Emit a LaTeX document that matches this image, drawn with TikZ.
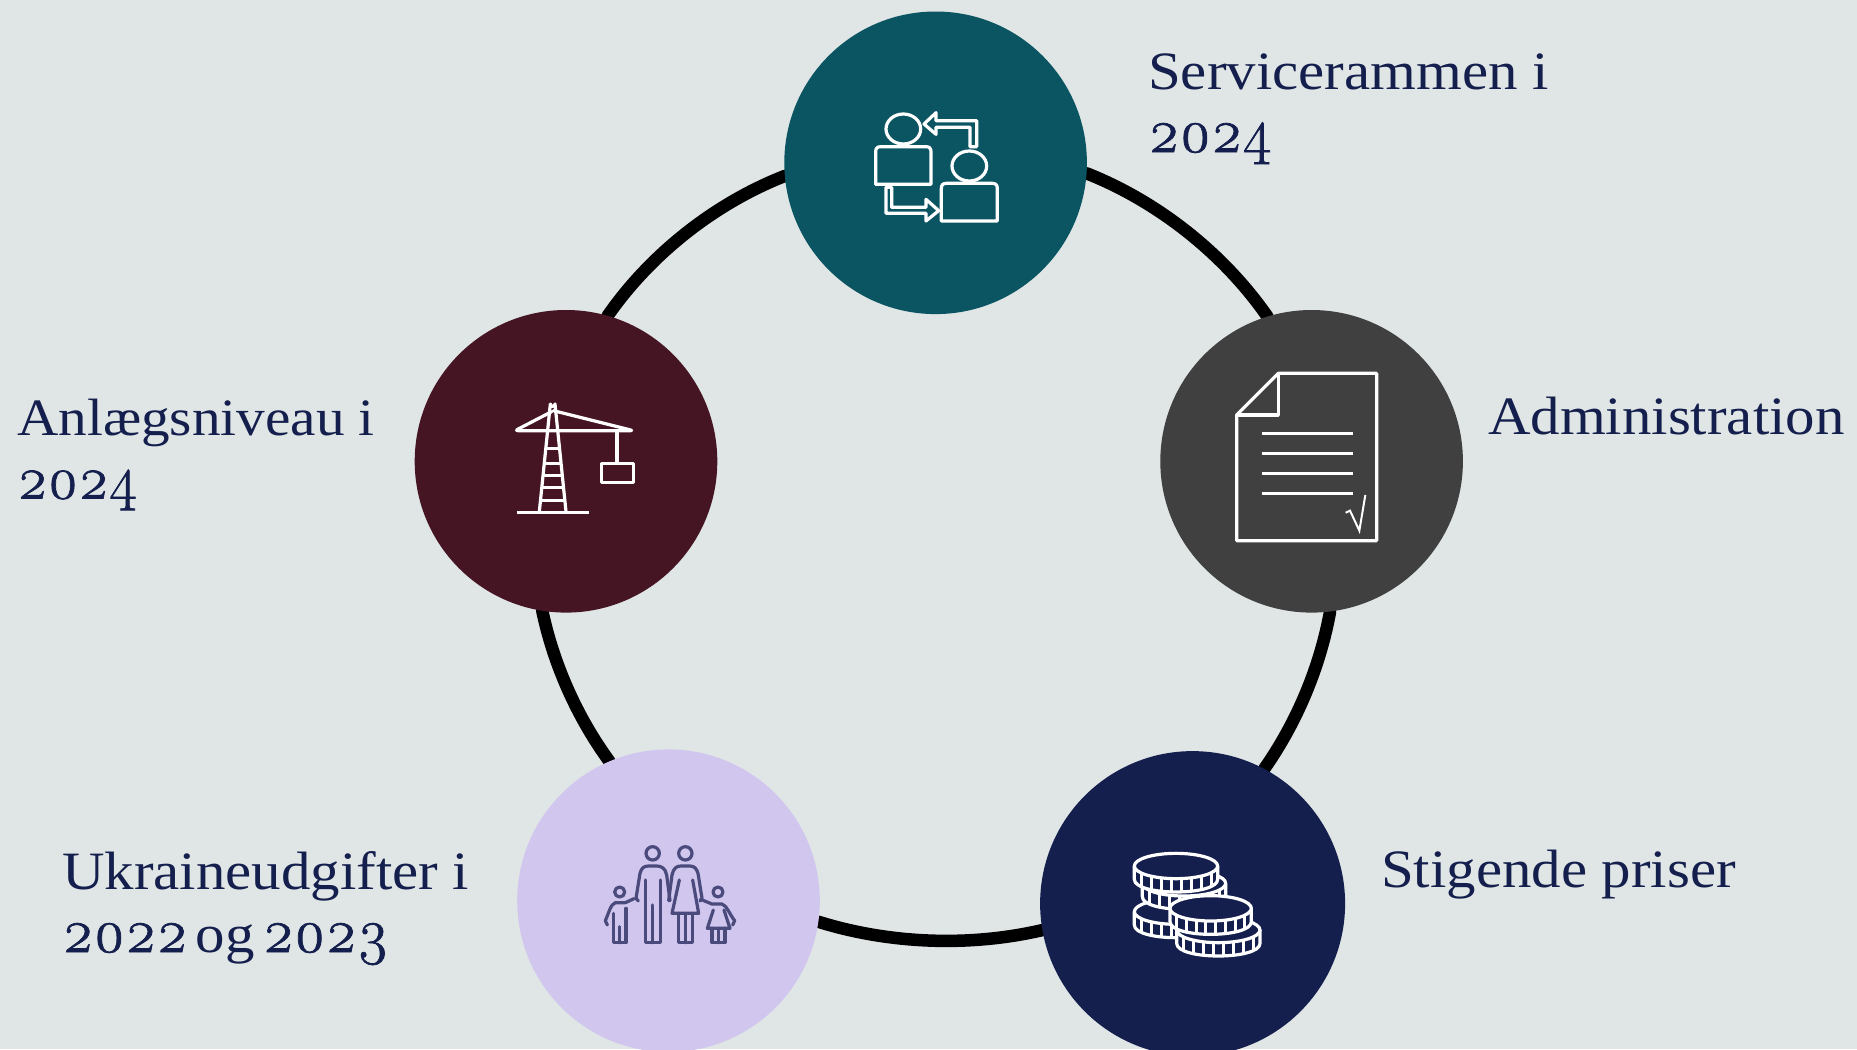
\documentclass[tikz,border=0pt]{standalone}
\usepackage{fontspec}
\setmainfont{Liberation Serif}[FakeStretch=1.09]
\newfontfamily\osf{Latin Modern Roman}[Numbers=OldStyle,FakeBold=1.2,FakeStretch=0.97,Scale=1.15]
\definecolor{paper}{HTML}{E0E6E6}
\definecolor{tealc}{HTML}{0B5563}
\definecolor{wine}{HTML}{451524}
\definecolor{greyc}{HTML}{404040}
\definecolor{navy}{HTML}{141F4D}
\definecolor{lilac}{HTML}{D0C6EE}
\definecolor{famc}{HTML}{4A4A7C}
\pgfdeclarelayer{paperlayer}
\pgfdeclarelayer{ringlayer}
\pgfsetlayers{paperlayer,ringlayer,main}
\tikzset{
  x=1pt,y=-1pt,
  hub/.style={circle,inner sep=0pt,minimum size=302.6pt},
  lab/.style={anchor=base west,inner sep=0pt,text=navy,font=\fontsize{54}{63}\selectfont,align=left},
  ringline/.style={line width=12.5pt,black,looseness=0.85,line cap=round},
  icon/.style={white,line width=3.2pt,line join=round},
  famline/.style={famc,line width=3.2pt,line join=round,line cap=round},
}
\newcommand{\mycoin}[5]{% cx cy rx ry h
  \begin{scope}[shift={(#1,#2)}]
    \fill[navy] (-#3,0) -- (-#3,#5) .. controls (-#3,#5+1.333*#4) and (#3,#5+1.333*#4) .. (#3,#5) -- (#3,0) -- cycle;
    \foreach \k in {-3.5,-2.5,...,3.5}{
      \pgfmathsetmacro{\xx}{\k*#3*0.24}
      \pgfmathsetmacro{\yy}{#4*sqrt(1-(\k*0.24)*(\k*0.24))}
      \draw[white,line width=3pt] (\xx,\yy) -- (\xx,\yy+#5);
    }
    \draw[icon] (-#3,0) -- (-#3,#5) .. controls (-#3,#5+1.333*#4) and (#3,#5+1.333*#4) .. (#3,#5) -- (#3,0);
    \draw[icon,fill=navy] (0,0) ellipse [x radius=#3,y radius=#4];
  \end{scope}
}
\begin{document}
\begin{tikzpicture}
\useasboundingbox (0,0) rectangle (1857,1049);
\begin{pgfonlayer}{paperlayer}
\fill[paper] (0,0) rectangle (1857,1049);
\end{pgfonlayer}
\node[hub,fill=tealc] (top) at (935.6,162.8) {};
\node[hub,fill=greyc] (right) at (1311.6,461.3) {};
\node[hub,fill=navy,minimum size=305pt] (br) at (1192.6,903.6) {};
\node[hub,fill=lilac] (bl) at (668.5,900.7) {};
\node[hub,fill=wine] (left) at (566,461.3) {};
\begin{pgfonlayer}{ringlayer}
\draw[ringline] (top.-4.2) to[bend left=16.8] (right.107.2);
\draw[ringline] (right.-83.5) to[bend left=12.4] (br.62.4);
\draw[ringline] (br.-170.6) to[bend left=15.2] (bl.-8.7);
\draw[ringline] (bl.113.2) to[bend left=12.1] (left.-99);
\draw[ringline] (left.74.4) to[bend left=16.9] (top.-175.7);
\end{pgfonlayer}
\node[lab] (t1) at (1148,152) {Servicerammen i\\{\osf 2024}};
\node[lab] (t2) at (1488,434) {Administration};
\node[lab] (t3) at (1381,887) {Stigende priser};
\node[lab] (t4) at (62,952) {Ukraineudgifter i\\{\osf 2022}\hspace{8pt}og\hspace{8pt}{\osf 2023}};
\node[lab,font=\fontsize{52.5}{63}\selectfont] (t5) at (17,498.5) {Anlægsniveau i\\{\osf 2024}};
% people icon
\begin{scope}[shift={(840,90)},scale=1/3]
  \draw[icon] (190,117) ellipse [x radius=52,y radius=45];
  \draw[icon] (388,228) ellipse [x radius=52,y radius=45];
  \draw[icon] (107,283) -- (107,185) .. controls (107,175) and (112,170) .. (122,170) -- (258,170) .. controls (268,170) and (273,175) .. (273,185) -- (273,283) -- cycle;
  \draw[icon] (304,393) -- (304,295) .. controls (304,285) and (309,280) .. (319,280) -- (457,280) .. controls (467,280) and (472,285) .. (472,295) -- (472,393) -- cycle;
  \draw[icon] (390,170) -- (410,170) -- (410,92) -- (288,92) -- (288,68) -- (252,102) -- (288,133) -- (288,112) -- (390,112) -- cycle;
  \draw[icon] (138,292) -- (155,292) -- (155,352) -- (258,352) -- (258,328) -- (296,362) -- (258,393) -- (258,370) -- (138,370) -- cycle;
\end{scope}
% crane icon
\begin{scope}[shift={(490,380)},scale=1/3]
  \draw[icon] (80,397) -- (297,397);
  \draw[icon] (148,395) -- (181,72) arc[start angle=180,end angle=0,radius=7] -- (228,395);
  \draw[icon,line cap=round,rounded corners=3pt] (185,95) -- (75,152) -- (430,152) -- (190,92);
  \foreach \y/\a/\b in {205/172/205,250/166/211,287/162/215,322/158/219,362/154/223}
    \draw[icon] (\a,\y) -- (\b,\y);
  \draw[icon] (381,155) -- (381,250);
  \draw[icon] (335,250) rectangle (430,308);
\end{scope}
% document icon
\begin{scope}[shift={(1210,360)},scale=1/3]
  \draw[icon] (80,165) -- (205,40) -- (500,40) -- (500,542) -- (80,542) -- cycle;
  \draw[icon] (205,40) -- (205,165) -- (80,165);
  \foreach \y in {220,280,340,400} \draw[icon] (155,\y) -- (428,\y);
  \draw[white,line width=2pt,line join=miter] (407,458) -- (420,452) -- (448,512) -- (466,405);
\end{scope}
% family icon
\begin{scope}[shift={(590,830)},scale=1/3]
  \draw[famline] (188,70) circle [radius=20];
  \draw[famline] (286,70) circle [radius=20];
  \draw[famline] (89,186) circle [radius=15];
  \draw[famline] (384,186) circle [radius=15];
  \draw[famline] (145,213) -- (138,205) -- (150,130) .. controls (154,112) and (165,108) .. (175,108) -- (200,108) .. controls (215,108) and (226,115) .. (230,135) -- (240,212);
  \draw[famline] (166,150) -- (166,338) -- (212,338) -- (212,150);
  \draw[famline] (188,225) -- (188,338);
  \draw[famline] (236,212) -- (246,135) .. controls (250,115) and (260,108) .. (272,108) -- (300,108) .. controls (312,108) and (320,115) .. (324,130) -- (336,205) -- (330,213);
  \draw[famline] (268,150) -- (246,250) -- (326,250) -- (308,150);
  \draw[famline] (265,250) -- (265,338) -- (308,338) -- (308,250);
  \draw[famline] (286,250) -- (286,338);
  \draw[famline] (132,206) -- (106,218) -- (76,218) .. controls (62,222) and (56,250) .. (46,272) -- (52,285);
  \draw[famline] (70,250) -- (70,338) -- (108,338) -- (108,235);
  \draw[famline] (89,290) -- (89,338);
  \draw[famline] (332,208) -- (366,222) -- (396,222) .. controls (410,226) and (420,255) .. (434,272) -- (428,285);
  \draw[famline] (370,240) -- (352,295) -- (420,295) -- (402,240);
  \draw[famline] (366,295) -- (366,338) -- (405,338) -- (405,295);
  \draw[famline] (385,295) -- (385,338);
\end{scope}
% coins icon
\begin{scope}[shift={(1120,840)},scale=1/3]
  \mycoin{168}{215}{125}{38}{40}
  \mycoin{192}{130}{125}{38}{40}
  \mycoin{168}{78}{125}{38}{40}
  \mycoin{295}{270}{125}{38}{40}
  \mycoin{272}{205}{122}{38}{40}
\end{scope}
\end{tikzpicture}
\end{document}
